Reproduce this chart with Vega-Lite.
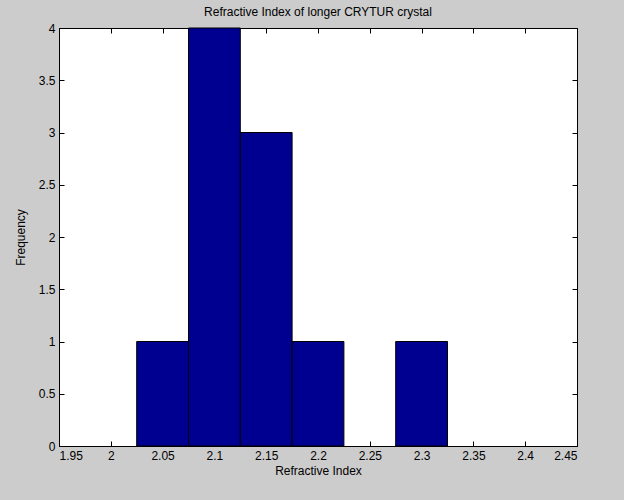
{
  "$schema": "https://vega.github.io/schema/vega-lite/v6.json",
  "width": 518,
  "height": 418,
  "autosize": {"type": "none"},
  "padding": {"left": 59, "top": 28, "right": 47, "bottom": 54},
  "background": "#cccccc",
  "config": {
    "view": {"stroke": "black", "strokeWidth": 1, "fill": "white"},
    "font": "Liberation Sans",
    "axis": {
      "grid": false,
      "domainColor": "black",
      "tickColor": "black",
      "labelColor": "black",
      "titleColor": "black",
      "labelFont": "Liberation Sans",
      "titleFont": "Liberation Sans",
      "labelFontSize": 12,
      "titleFontSize": 12,
      "titleFontWeight": "normal",
      "tickSize": -5,
      "labelPadding": 9
    }
  },
  "title": {
    "text": "Refractive Index of longer CRYTUR crystal",
    "fontSize": 12,
    "fontWeight": "normal",
    "font": "Liberation Sans",
    "color": "black",
    "offset": 3
  },
  "data": {
    "values": [
      {"bin_start": 2.025, "bin_end": 2.075, "count": 1},
      {"bin_start": 2.075, "bin_end": 2.125, "count": 4},
      {"bin_start": 2.125, "bin_end": 2.175, "count": 3},
      {"bin_start": 2.175, "bin_end": 2.225, "count": 1},
      {"bin_start": 2.275, "bin_end": 2.325, "count": 1}
    ]
  },
  "layer": [
    {
      "mark": {"type": "bar", "fill": "#000090", "stroke": "black", "strokeWidth": 1},
      "encoding": {
        "x": {
          "field": "bin_start",
          "type": "quantitative",
          "scale": {"domain": [1.95, 2.45], "nice": false, "zero": false},
          "axis": {
            "orient": "bottom",
            "title": "Refractive Index",
            "values": [1.95, 2, 2.05, 2.1, 2.15, 2.2, 2.25, 2.3, 2.35, 2.4, 2.45],
            "format": "~g",
            "titlePadding": 4
          }
        },
        "x2": {"field": "bin_end"},
        "y": {
          "field": "count",
          "type": "quantitative",
          "scale": {"domain": [0, 4], "nice": false, "padding": 0},
          "axis": {
            "orient": "left",
            "title": "Frequency",
            "values": [0, 0.5, 1, 1.5, 2, 2.5, 3, 3.5, 4],
            "format": "~g",
            "titlePadding": 11
          }
        },
        "y2": {"datum": 0}
      }
    },
    {
      "mark": {"type": "rule", "opacity": 0},
      "encoding": {
        "x": {
          "field": "bin_start",
          "type": "quantitative",
          "scale": {"domain": [1.95, 2.45], "nice": false, "zero": false},
          "axis": {
            "orient": "top",
            "title": null,
            "labels": false,
            "values": [1.95, 2, 2.05, 2.1, 2.15, 2.2, 2.25, 2.3, 2.35, 2.4, 2.45]
          }
        },
        "y": {
          "field": "count",
          "type": "quantitative",
          "scale": {"domain": [0, 4], "nice": false, "padding": 0},
          "axis": {
            "orient": "right",
            "title": null,
            "labels": false,
            "values": [0, 0.5, 1, 1.5, 2, 2.5, 3, 3.5, 4]
          }
        }
      }
    }
  ],
  "resolve": {"axis": {"x": "independent", "y": "independent"}}
}
